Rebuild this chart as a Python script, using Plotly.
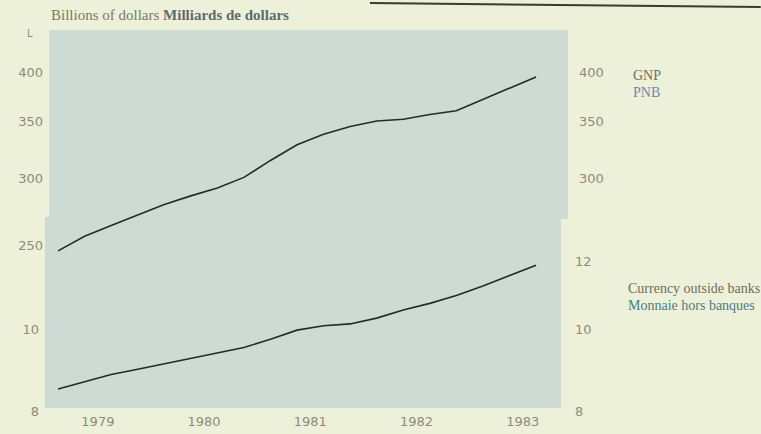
import plotly.graph_objects as go

# Quarterly observations, 1979Q1 - 1983Q3
years = [1979, 1979, 1979, 1979, 1980, 1980, 1980, 1980, 1981, 1981, 1981, 1981,
         1982, 1982, 1982, 1982, 1983, 1983, 1983]
quarters = [1, 2, 3, 4, 1, 2, 3, 4, 1, 2, 3, 4, 1, 2, 3, 4, 1, 2, 3]

# GNP, billions of dollars (annual rate)
gnp = [246.4, 256.4, 263.9, 271.6, 279.4, 286.0, 292.1, 300.7, 314.8, 328.4,
       337.9, 345.1, 350.3, 351.9, 356.5, 360.2, 371.2, 383.1, 394.7]

# Currency outside banks, billions of dollars
currency = [8.50, 8.67, 8.84, 8.97, 9.10, 9.23, 9.36, 9.51, 9.73, 9.97,
            10.09, 10.14, 10.30, 10.53, 10.72, 10.95, 11.24, 11.56, 11.89]

year_ticks = [1979, 1980, 1981, 1982, 1983]
gnp_ticks_left = [250, 300, 350, 400]
gnp_ticks_right = [300, 350, 400]
cur_ticks_left = [8, 10]
cur_ticks_right = [8, 10, 12]

x = [y + (q - 0.5) / 4 for y, q in zip(years, quarters)]

PAPER = "#eef1d9"
PANEL = "#cedbd5"
LINE = "#1e2f1f"
TICK_GREY = "#8d8b7b"
tick_font = dict(family="DejaVu Sans", size=13, color=TICK_GREY)

fig = go.Figure()
fig.add_trace(go.Scatter(x=x, y=gnp, mode="lines", yaxis="y",
                         line=dict(color=LINE, width=1.6), showlegend=False))
fig.add_trace(go.Scatter(x=x, y=currency, mode="lines", yaxis="y2",
                         line=dict(color=LINE, width=1.6), showlegend=False))
# carriers for the right-hand scales
fig.add_trace(go.Scatter(x=x, y=gnp, mode="lines", yaxis="y3", opacity=0,
                         hoverinfo="skip", showlegend=False))
fig.add_trace(go.Scatter(x=x, y=currency, mode="lines", yaxis="y4", opacity=0,
                         hoverinfo="skip", showlegend=False))

gnp_range = [2.2021, 2.6515]
cur_range = [0.9024, 1.3518]

common_y = dict(type="log", showgrid=False, zeroline=False, showline=False,
                ticks="", tickfont=tick_font, fixedrange=True, automargin=False)

fig.update_layout(
    width=761, height=434,
    margin=dict(l=47, r=193, t=30, b=22),
    paper_bgcolor=PAPER,
    plot_bgcolor="rgba(0,0,0,0)",
    xaxis=dict(range=[1979.021, 1983.926], showgrid=False, zeroline=False,
               showline=False, ticks="", automargin=False,
               tickvals=[y + 0.5 for y in year_ticks],
               ticktext=[str(y) for y in year_ticks],
               tickfont=tick_font),
    yaxis=dict(range=gnp_range, tickvals=gnp_ticks_left,
               ticklabelstandoff=3, side="left", **common_y),
    yaxis2=dict(range=cur_range, tickvals=cur_ticks_left, overlaying="y",
                ticklabelstandoff=7, side="left", anchor="x", **common_y),
    yaxis3=dict(range=gnp_range, tickvals=gnp_ticks_right, overlaying="y",
                ticklabelstandoff=10, side="right", anchor="x", **common_y),
    yaxis4=dict(range=cur_range, tickvals=cur_ticks_right, overlaying="y",
                ticklabelstandoff=6, side="right", anchor="x", **common_y),
)

# shaded chart panel (upper and lower halves of the broken scale)
fig.add_shape(type="rect", xref="paper", yref="paper", layer="below",
              x0=0.004, x1=1.0, y0=0.505, y1=1.0,
              fillcolor=PANEL, line_width=0)
fig.add_shape(type="rect", xref="paper", yref="paper", layer="below",
              x0=-0.004, x1=0.9866, y0=0.0105, y1=0.5105,
              fillcolor=PANEL, line_width=0)
# rule along the top of the page
fig.add_shape(type="line", xref="paper", yref="paper",
              x0=0.62, x1=1.37, y0=1.0707, y1=1.0602,
              line=dict(color="#3b3c2a", width=2))

serif = "Liberation Serif"
fig.add_annotation(
    xref="paper", yref="paper", x=0.003, y=1.038, xanchor="left", yanchor="middle",
    showarrow=False,
    text="Billions of dollars <b><span style='color:#5d6b70'>Milliards de dollars</span></b>",
    font=dict(family=serif, size=15, color="#7a7866"))
fig.add_annotation(
    xref="paper", yref="paper", x=-0.033, y=0.99, xanchor="center", yanchor="middle",
    showarrow=False, text="L", font=dict(family="DejaVu Sans", size=10, color=TICK_GREY))

legend_items = [
    ("GNP", "#6e6c5c", 1.12, 0.8815),
    ("PNB", "#6c86b2", 1.12, 0.8372),
    ("Currency outside banks", "#6e6c5c", 1.112, 0.323),
    ("Monnaie hors banques", "#4f7a82", 1.112, 0.278),
]
for text, color, xp, yp in legend_items:
    fig.add_annotation(xref="paper", yref="paper", x=xp, y=yp,
                       xanchor="left", yanchor="middle", showarrow=False,
                       text=text, font=dict(family=serif, size=14, color=color))

fig.write_html("out.html")
